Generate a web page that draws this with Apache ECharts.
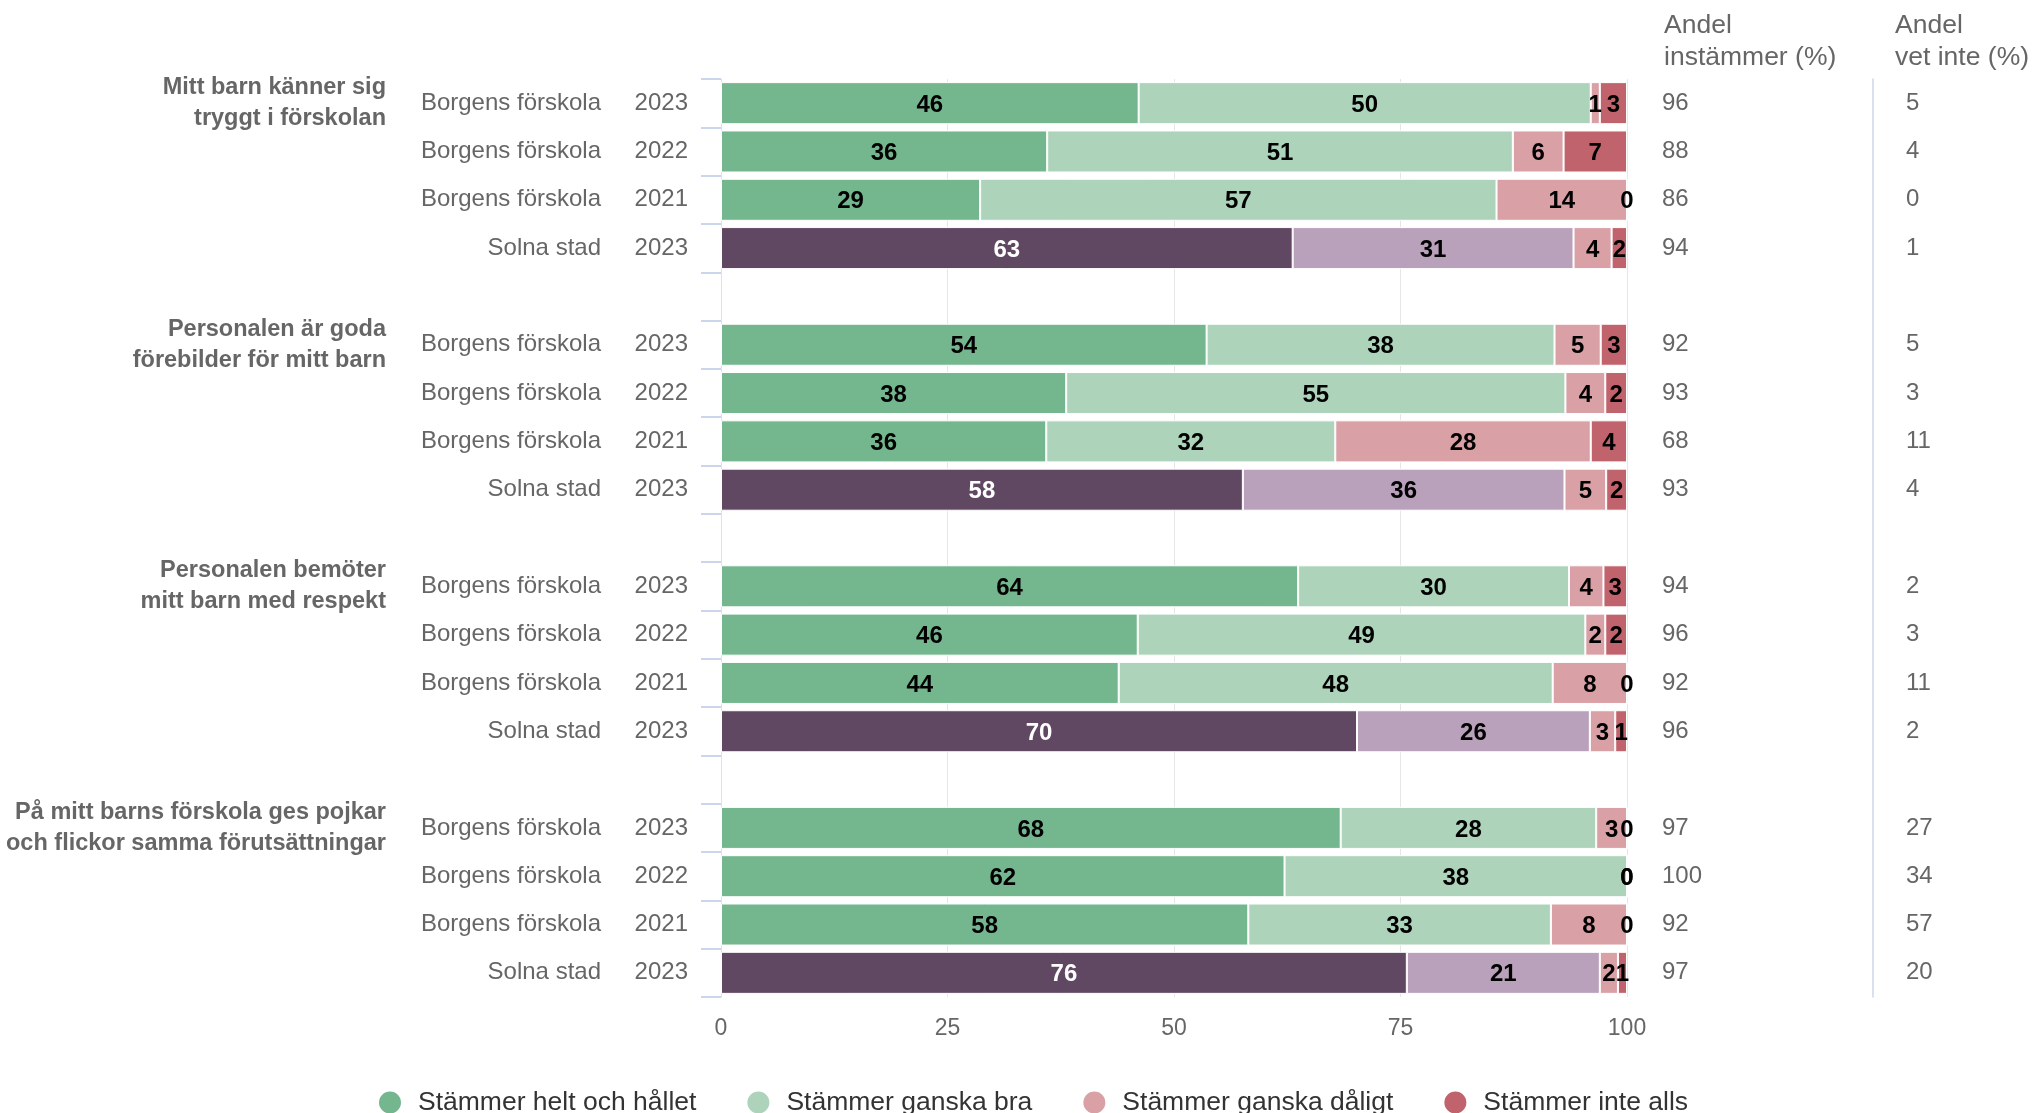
<!DOCTYPE html>
<html>
<head>
<meta charset="utf-8">
<script src="https://cdn.jsdelivr.net/npm/echarts@6/dist/echarts.min.js"></script>
<style>
  html, body { margin: 0; padding: 0; background: #fff; }
  #chart { width: 2034px; height: 1113px; }
</style>
</head>
<body>
<div id="chart"></div>
<script>
// ---- Data ----
const groupTitles = [
  'Mitt barn känner sig\ntryggt i förskolan',
  'Personalen är goda\nförebilder för mitt barn',
  'Personalen bemöter\nmitt barn med respekt',
  'På mitt barns förskola ges pojkar\noch flickor samma förutsättningar'
];
const rowNames = ['Borgens förskola', 'Borgens förskola', 'Borgens förskola', 'Solna stad'];
const rowYears = ['2023', '2022', '2021', '2023'];
const seriesNames = ['Stämmer helt och hållet', 'Stämmer ganska bra', 'Stämmer ganska dåligt', 'Stämmer inte alls'];

// values per row (16 rows: 4 groups x 4 rows), estimated shares summing to 100
const heltOchHallet = [46.1, 36.0, 28.6, 63.1, 53.6, 38.1, 35.9, 57.6, 63.7, 46.0, 43.9, 70.2, 68.4, 62.2, 58.2, 75.7];
const ganskaBra     = [49.9, 51.4, 57.0, 31.0, 38.4, 55.1, 31.9, 35.5, 29.9, 49.4, 47.9, 25.7, 28.2, 37.8, 33.4, 21.3];
const ganskaDaligt  = [1.0, 5.6, 14.4, 4.2, 5.1, 4.4, 28.2, 4.6, 3.8, 2.2, 8.2, 2.8, 3.4, 0, 8.4, 2.0];
const inteAlls      = [3.0, 7.0, 0, 1.7, 2.9, 2.4, 4.0, 2.3, 2.6, 2.4, 0, 1.3, 0, 0, 0, 1.0];
const andelInstammer = [96, 88, 86, 94, 92, 93, 68, 93, 94, 96, 92, 96, 97, 100, 92, 97];
const andelVetInte   = [5, 4, 0, 1, 5, 3, 11, 4, 2, 3, 11, 2, 27, 34, 57, 20];

// ---- Styles ----
const colors = ['#74b78e', '#add4bb', '#d9a0a6', '#c0636c'];
const solnaColors = ['#604863', '#baa1bb'];
const FONT = '"Liberation Sans", Arial, Helvetica, sans-serif';

// ---- Build rows with blank spacer rows between groups ----
const rows = [];
for (let g = 0; g < groupTitles.length; g++) {
  for (let r = 0; r < 4; r++) rows.push({ g: g, r: r, i: g * 4 + r });
  if (g < groupTitles.length - 1) rows.push(null);
}
const yearLabels = rows.map(x => x ? rowYears[x.r] : '');
const nameLabels = rows.map(x => x ? rowNames[x.r] : '');
const titleLabels = rows.map(x => (x && x.r === 0) ? groupTitles[x.g] : '');
const instLabels = rows.map(x => x ? String(andelInstammer[x.i]) : '');
const vetLabels = rows.map(x => x ? String(andelVetInte[x.i]) : '');

const valueSets = [heltOchHallet, ganskaBra, ganskaDaligt, inteAlls];

const series = valueSets.map((vals, s) => ({
  name: seriesNames[s],
  type: 'bar',
  stack: 'total',
  barCategoryGap: '13%',
  itemStyle: { color: colors[s], borderColor: '#fff', borderWidth: 1 },
  label: {
    show: true,
    position: 'inside',
    offset: [0, 2],
    fontFamily: FONT,
    fontSize: 24,
    fontWeight: 'bold',
    color: '#000',
    formatter: p => (p.value === null || p.value === undefined) ? '' : String(Math.round(p.value))
  },
  emphasis: { disabled: true },
  data: rows.map(x => {
    if (!x) return null;
    const v = vals[x.i];
    if (x.r === 3 && s < 2) {
      return {
        value: v,
        itemStyle: { color: solnaColors[s] },
        label: { color: s === 0 ? '#fff' : '#000' }
      };
    }
    return v;
  })
}));

const baseCatAxis = {
  type: 'category',
  inverse: true,
  axisLine: { show: false },
  axisTick: { show: false },
  splitLine: { show: false }
};

const chart = echarts.init(document.getElementById('chart'));
chart.setOption({
  animation: false,
  textStyle: { fontFamily: FONT },
  grid: { left: 721, right: 407, top: 79, bottom: 116, containLabel: false },
  xAxis: {
    type: 'value',
    min: 0,
    max: 100,
    interval: 25,
    axisLine: { show: false },
    axisTick: { show: false },
    splitLine: { show: true, lineStyle: { color: '#e6e6e6', width: 1 } },
    axisLabel: { color: '#666', fontSize: 23, fontFamily: FONT, margin: 20 }
  },
  yAxis: [
    Object.assign({}, baseCatAxis, {
      data: yearLabels,
      position: 'left',
      axisLine: { show: true, lineStyle: { color: '#dde2ea', width: 1 } },
      axisTick: { show: true, interval: 0, length: 20, lineStyle: { color: '#ccd6eb', width: 2 } },
      axisLabel: { interval: 0, color: '#666', fontSize: 24, fontFamily: FONT, margin: 33 }
    }),
    Object.assign({}, baseCatAxis, {
      data: nameLabels,
      position: 'left',
      axisLabel: { interval: 0, color: '#666', fontSize: 24, fontFamily: FONT, margin: 120 }
    }),
    Object.assign({}, baseCatAxis, {
      data: titleLabels,
      position: 'left',
      axisLabel: { interval: 0, color: '#666', fontSize: 23.5, fontWeight: 'bold', lineHeight: 31, fontFamily: FONT, margin: 335 }
    }),
    Object.assign({}, baseCatAxis, {
      data: instLabels,
      position: 'right',
      axisLabel: { interval: 0, color: '#666', fontSize: 24, fontFamily: FONT, margin: 35 }
    }),
    Object.assign({}, baseCatAxis, {
      data: vetLabels,
      position: 'right',
      offset: 246,
      axisLine: { show: true, lineStyle: { color: '#ccd6eb', width: 1.5 } },
      axisLabel: { interval: 0, color: '#666', fontSize: 24, fontFamily: FONT, margin: 33 }
    })
  ],
  legend: {
    data: seriesNames,
    left: 372,
    top: 1084,
    icon: 'circle',
    itemWidth: 46,
    itemHeight: 24,
    itemGap: 49,
    textStyle: { color: '#333', fontSize: 26.5, fontFamily: FONT }
  },
  graphic: [
    { type: 'text', left: 1664, top: 10, style: { text: 'Andel\ninstämmer (%)', fill: '#666', font: '26.5px ' + FONT, lineHeight: 32 } },
    { type: 'text', left: 1895, top: 10, style: { text: 'Andel\nvet inte (%)', fill: '#666', font: '26.5px ' + FONT, lineHeight: 32 } }
  ],
  series: series
});
</script>
</body>
</html>
